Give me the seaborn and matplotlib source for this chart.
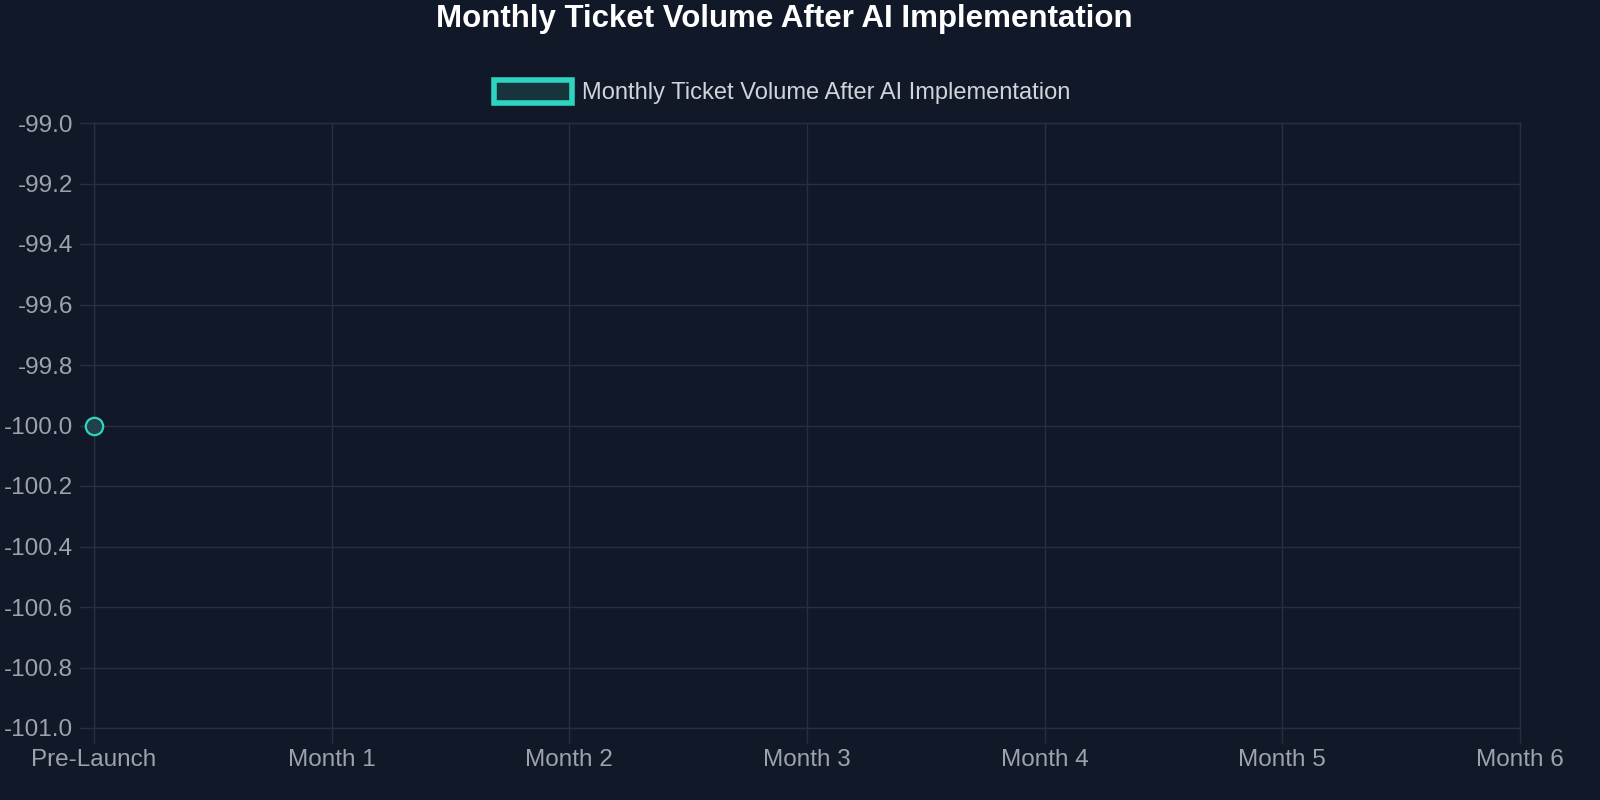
import numpy as np
import pandas as pd
import matplotlib
matplotlib.use('Agg')
import matplotlib.pyplot as plt
import seaborn as sns
from matplotlib.patches import Patch

# chart data
months = ['Pre-Launch', 'Month 1', 'Month 2', 'Month 3', 'Month 4', 'Month 5', 'Month 6']
ticket_volume = [-100, np.nan, np.nan, np.nan, np.nan, np.nan, np.nan]
y_ticks = [-101.0, -100.8, -100.6, -100.4, -100.2, -100.0, -99.8, -99.6, -99.4, -99.2, -99.0]

series_name = 'Monthly Ticket Volume After AI Implementation'

bg = '#111827'
grid_col = '#283040'
teal = '#2dd4bf'
tick_col = '#9ca3af'

sns.set_theme(style='dark')
plt.rcParams['font.family'] = ['Liberation Sans', 'DejaVu Sans']

df = pd.DataFrame({'pos': range(len(months)), 'volume': ticket_volume})

fig = plt.figure(figsize=(16, 8), dpi=100, facecolor=bg)
ax = fig.add_axes([94 / 1600, 1 - 728 / 800, (1520 - 94) / 1600, (728 - 123) / 800])
ax.set_facecolor(bg)

# single point at Pre-Launch, the rest is missing
sns.lineplot(data=df, x='pos', y='volume', ax=ax, color=teal, linewidth=3,
             marker='o', markersize=12.5, markerfacecolor='#21404a',
             markeredgecolor=teal, markeredgewidth=1.6, clip_on=False, zorder=5)

ax.set_xlim(0, len(months) - 1)
ax.set_ylim(y_ticks[0], y_ticks[-1])
ax.set_xticks(range(len(months)))
ax.set_xticklabels(months)
ax.set_yticks(y_ticks)
ax.set_yticklabels([f'{v:.1f}' for v in y_ticks])
ax.set_xlabel('')
ax.set_ylabel('')

ax.grid(True, color=grid_col, linewidth=1)
ax.tick_params(axis='both', colors=grid_col, labelcolor=tick_col, labelsize=17.5,
               length=11, width=1, pad=4, bottom=True, left=True)
for s in ax.spines.values():
    s.set_color(grid_col)
    s.set_linewidth(1)

fig.text(0.49, 1 - 19 / 800, 'Monthly Ticket Volume After AI Implementation',
         ha='center', va='center', color='white', fontsize=22.5, fontweight='bold')

handle = Patch(facecolor='#17343d', edgecolor=teal, linewidth=4)
leg = fig.legend([handle], [series_name], loc='center', bbox_to_anchor=(0.489, 1 - 92 / 800),
                 frameon=False, fontsize=17, handlelength=3.3, handleheight=1.15,
                 handletextpad=0.45, labelcolor='#d1d5db')

fig.savefig('out.png', dpi=100, facecolor=bg)
